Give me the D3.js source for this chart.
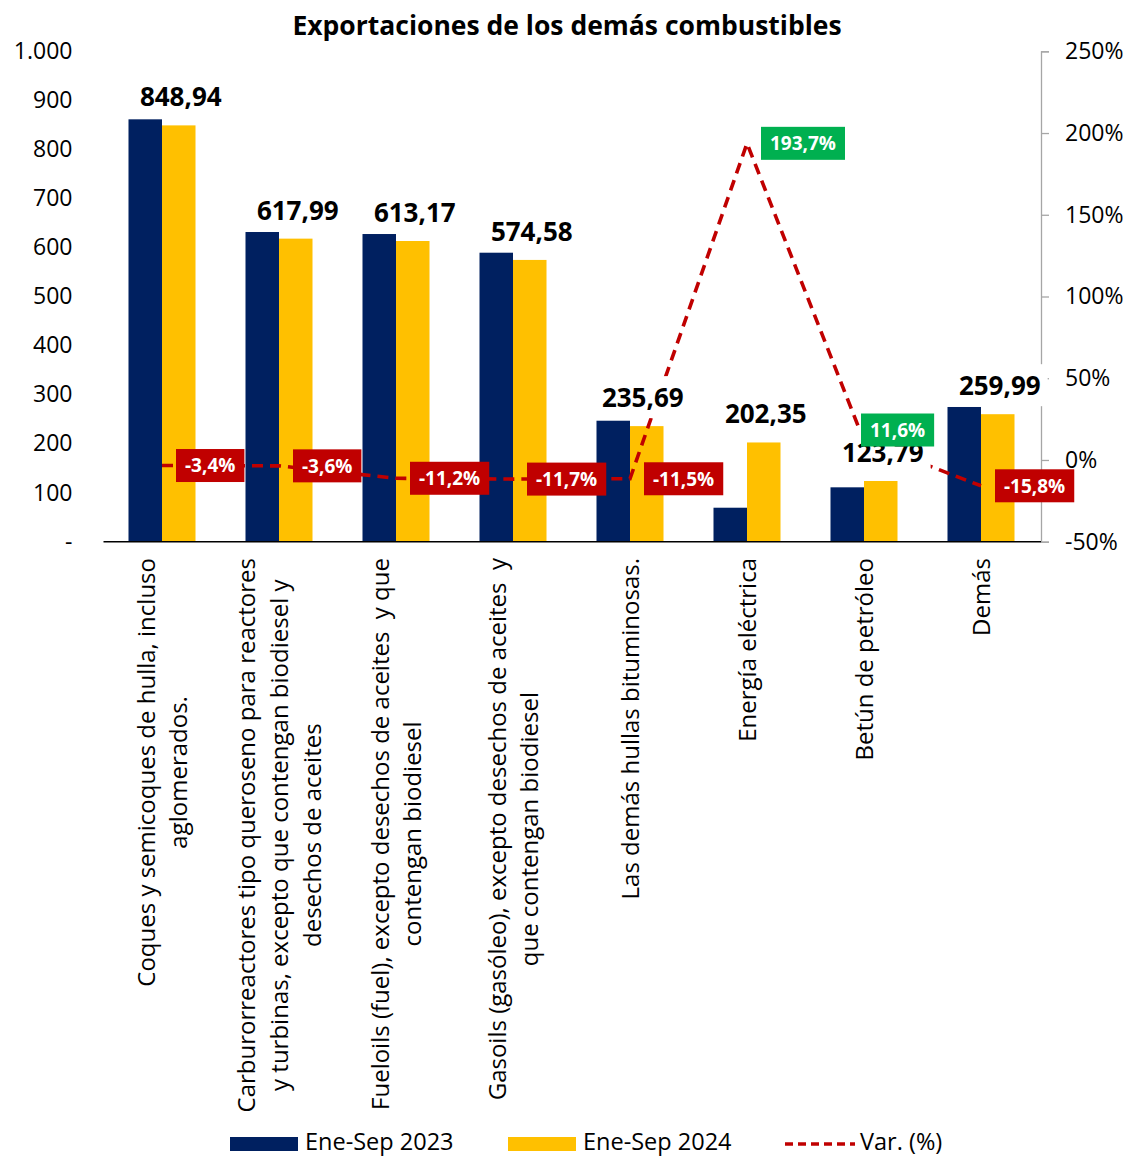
<!DOCTYPE html>
<html>
<head>
<meta charset="utf-8">
<script src="https://cdn.jsdelivr.net/npm/d3@7"></script>
<style>
  body { margin: 0; background: #fff; }
  svg { font-family: "Open Sans", sans-serif; }
</style>
</head>
<body>
<svg id="chart" width="1127" height="1156"></svg>
<script>
const categories = [
  "Coques y semicoques de hulla, incluso\naglomerados.",
  "Carburorreactores tipo queroseno para reactores\ny turbinas, excepto que contengan biodiesel y\ndesechos de aceites",
  "Fueloils (fuel), excepto desechos de aceites  y que\ncontengan biodiesel",
  "Gasoils (gasóleo), excepto desechos de aceites  y\nque contengan biodiesel",
  "Las demás hullas bituminosas.",
  "Energía eléctrica",
  "Betún de petróleo",
  "Demás"
];
const series = ["Ene-Sep 2023", "Ene-Sep 2024"];
const values2023 = [861.3, 631.5, 627.4, 589.3, 246.7, 69.3, 110.9, 274.7];
const values2024 = [848.94, 617.99, 613.17, 574.58, 235.69, 202.35, 123.79, 259.99];
const varPct = [-3.4, -3.6, -11.2, -11.7, -11.5, 193.7, 11.6, -15.8];
const leftTicks = [0, 100, 200, 300, 400, 500, 600, 700, 800, 900, 1000];
const rightTicks = [-50, 0, 50, 100, 150, 200, 250];

const colors = { navy: "#002060", yellow: "#FFC000", red: "#C00000", green: "#00B050" };

const locale = d3.formatLocale({ decimal: ",", thousands: ".", grouping: [3], currency: ["", ""], minus: "-" });
const fmtTick = locale.format(",.0f");
const fmtVal = locale.format(",.2f");
const fmtPct = locale.format(".1f");

const data = categories.map((c, i) => ({
  cat: c, v2023: values2023[i], v2024: values2024[i], pct: varPct[i]
}));

const svg = d3.select("#chart");
const plot = { left: 103.5, right: 1039.5, top: 51.3, bottom: 541.7 };

const x = d3.scaleBand().domain(categories).range([plot.left, plot.right]).padding(0);
const x1 = d3.scaleBand().domain(series).range([0, x.bandwidth()]).paddingInner(0).paddingOuter(0.746);
const y = d3.scaleLinear().domain([0, 1000]).range([plot.bottom, plot.top]);
const y2 = d3.scaleLinear().domain([-50, 250]).range([plot.bottom, plot.top]);

// title
svg.append("text")
  .attr("x", 567).attr("y", 35)
  .attr("text-anchor", "middle")
  .attr("font-size", 26.5).attr("font-weight", 700)
  .text("Exportaciones de los demás combustibles");

// left axis (labels only)
const gLeft = svg.append("g")
  .attr("transform", `translate(${plot.left},0)`)
  .call(d3.axisLeft(y).tickValues(leftTicks).tickSize(0).tickPadding(31)
    .tickFormat(d => d === 0 ? "-" : fmtTick(d)));
gLeft.select(".domain").remove();
gLeft.selectAll("text").attr("font-size", 23).attr("font-family", "Open Sans").attr("fill", "#000");

// right axis
const gRight = svg.append("g")
  .attr("transform", `translate(${plot.right + 1.5},0)`)
  .call(d3.axisRight(y2).tickValues(rightTicks).tickSize(8).tickSizeOuter(8).tickPadding(16)
    .tickFormat(d => fmtTick(d) + "%"));
gRight.select(".domain").attr("stroke", "#a6a6a6").attr("stroke-width", 1.3);
gRight.selectAll(".tick line").attr("stroke", "#a6a6a6").attr("stroke-width", 1.3);
gRight.selectAll("text").attr("font-size", 23).attr("font-family", "Open Sans").attr("fill", "#000");

// bars
const groups = svg.append("g").selectAll("g")
  .data(data).join("g")
  .attr("transform", d => `translate(${x(d.cat)},0)`);
groups.append("rect")
  .attr("x", x1(series[0])).attr("width", x1.bandwidth())
  .attr("y", d => y(d.v2023)).attr("height", d => y(0) - y(d.v2023))
  .attr("fill", colors.navy);
groups.append("rect")
  .attr("x", x1(series[1])).attr("width", x1.bandwidth())
  .attr("y", d => y(d.v2024)).attr("height", d => y(0) - y(d.v2024))
  .attr("fill", colors.yellow);

// x axis line
svg.append("line")
  .attr("x1", plot.left).attr("x2", plot.right + 1.5)
  .attr("y1", y(0)).attr("y2", y(0))
  .attr("stroke", "#000").attr("stroke-width", 1.6);

// category labels, rotated
const catG = svg.append("g").selectAll("g")
  .data(data).join("g")
  .attr("transform", d => `translate(${x(d.cat) + x.bandwidth() / 2},558) rotate(-90)`);
catG.each(function (d) {
  const g = d3.select(this);
  const lines = d.cat.split("\n");
  const lh = 32.6;
  const texts = lines.map((ln, i) => g.append("text")
    .attr("font-size", 24)
    .attr("text-anchor", "middle")
    .attr("y", (i - (lines.length - 1) / 2) * lh + 9)
    .attr("fill", "#000")
    .style("white-space", "pre")
    .text(ln));
  const maxLen = d3.max(texts, t => t.node().getComputedTextLength());
  texts.forEach(t => t.attr("x", -maxLen / 2));
});

// variation line
const line = d3.line()
  .x(d => x(d.cat) + x.bandwidth() / 2)
  .y(d => y2(d.pct));
svg.append("path")
  .datum(data)
  .attr("d", line)
  .attr("fill", "none")
  .attr("stroke", colors.red)
  .attr("stroke-width", 3.6)
  .attr("stroke-dasharray", "11,7");

// value labels on 2024 bars (white background)
const valNudge = { 4: -6 };
const valG = svg.append("g").selectAll("g")
  .data(data).join("g")
  .attr("transform", (d, i) => `translate(${x(d.cat) + x1(series[1]) + x1.bandwidth() / 2 + 2 + (valNudge[i] || 0)},${y(d.v2024) - 19})`);
valG.each(function (d) {
  const g = d3.select(this);
  const bg = g.append("rect").attr("fill", "#fff");
  const t = g.append("text")
    .attr("text-anchor", "middle")
    .attr("font-size", 26).attr("font-weight", 700)
    .attr("fill", "#000")
    .text(fmtVal(d.v2024));
  const w = t.node().getComputedTextLength();
  bg.attr("x", -w / 2 - 7).attr("width", w + 14).attr("y", -31).attr("height", 42);
});

// variation labels
const nudge = { 6: [-17, -11] };
const pctG = svg.append("g").selectAll("g")
  .data(data).join("g")
  .attr("transform", (d, i) => {
    const n = nudge[i] || [0, 0];
    return `translate(${x(d.cat) + x.bandwidth() / 2 + 14 + n[0]},${y2(d.pct) + n[1]})`;
  });
pctG.each(function (d) {
  const g = d3.select(this);
  const box = g.append("rect").attr("fill", d.pct >= 0 ? colors.green : colors.red);
  const t = g.append("text")
    .attr("font-size", 19).attr("font-weight", 700)
    .attr("fill", "#fff")
    .attr("x", 9).attr("y", 6.8)
    .text(fmtPct(d.pct) + "%");
  const w = t.node().getComputedTextLength();
  box.attr("x", 0).attr("y", -16.5).attr("width", w + 18).attr("height", 33);
});

// legend
const legend = svg.append("g");
const legendItems = [
  { label: series[0], type: "rect", color: colors.navy, x: 230 },
  { label: series[1], type: "rect", color: colors.yellow, x: 508 },
  { label: "Var. (%)", type: "line", color: colors.red, x: 785 }
];
legendItems.forEach(it => {
  if (it.type === "rect") {
    legend.append("rect").attr("x", it.x).attr("y", 1137).attr("width", 68).attr("height", 14).attr("fill", it.color);
  } else {
    legend.append("line").attr("x1", it.x).attr("x2", it.x + 70).attr("y1", 1144).attr("y2", 1144)
      .attr("stroke", it.color).attr("stroke-width", 3.6).attr("stroke-dasharray", "8,5");
  }
  legend.append("text").attr("x", it.x + 75).attr("y", 1150)
    .attr("font-size", 23.5).attr("fill", "#000").text(it.label);
});
</script>
</body>
</html>
